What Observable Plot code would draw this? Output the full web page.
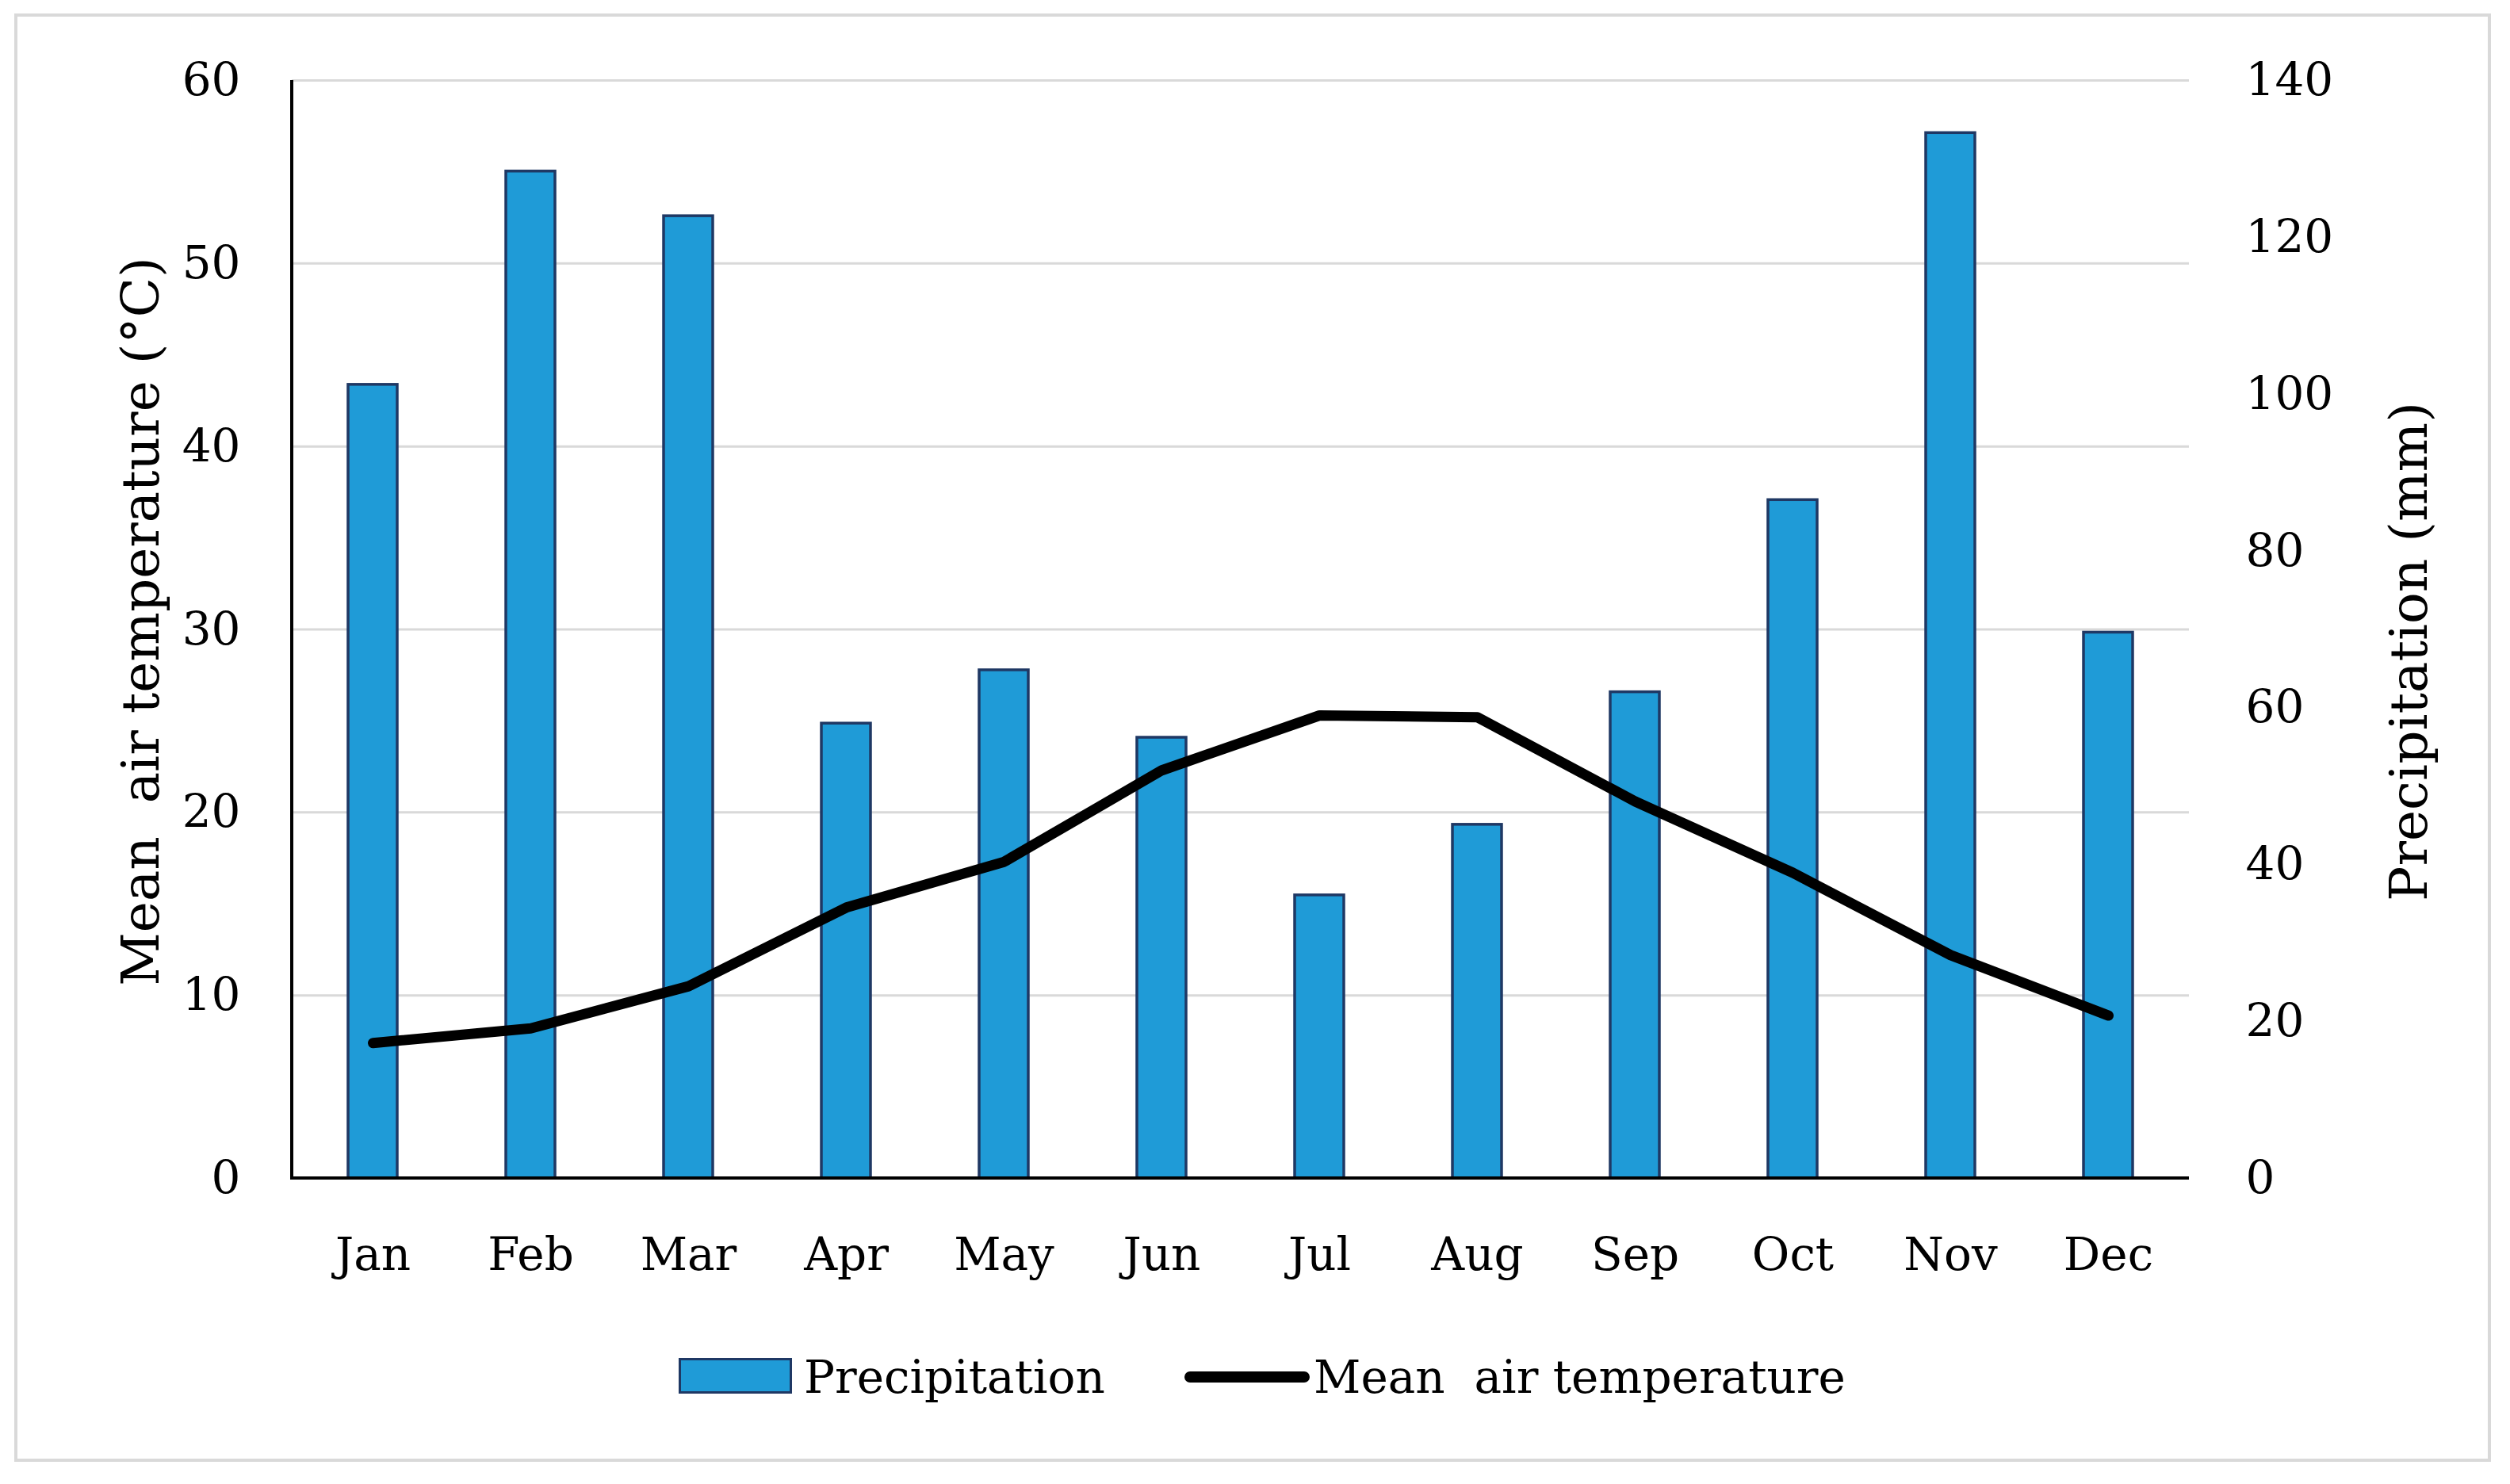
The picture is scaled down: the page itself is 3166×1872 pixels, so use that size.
<!DOCTYPE html>
<html>
<head>
<meta charset="utf-8">
<script src="https://cdn.jsdelivr.net/npm/d3@7"></script>
<script src="https://cdn.jsdelivr.net/npm/@observablehq/plot@0.6"></script>
<style>
  html, body { margin: 0; padding: 0; background: #ffffff; }
  body { width: 3166px; height: 1872px; position: relative; overflow: hidden; font-family: "DejaVu Serif", serif; }
  #frame { position: absolute; left: 18px; top: 17px; width: 3124px; height: 1827px; border: 4px solid #d9d9d9; box-sizing: border-box; }
  #chart { position: absolute; left: 0; top: 0; }
  #chart svg text { white-space: pre; }
  .leg { position: absolute; font-size: 58px; line-height: 58px; color: #000; white-space: pre; }
  .swatch { position: absolute; box-sizing: border-box; }
</style>
</head>
<body>
<div id="frame"></div>
<div id="chart"></div>
<div id="legend"></div>
<script>
// ---- data ----
const months = ["Jan", "Feb", "Mar", "Apr", "May", "Jun", "Jul", "Aug", "Sep", "Oct", "Nov", "Dec"];
const precipitation = [101.2, 128.4, 122.7, 58.0, 64.8, 56.2, 36.1, 45.1, 62.0, 86.5, 133.3, 69.6];
const temperature = [7.4, 8.2, 10.5, 14.8, 17.3, 22.3, 25.3, 25.2, 20.6, 16.7, 12.2, 8.9];
const tempTicks = [0, 10, 20, 30, 40, 50, 60];
const precipTicks = [0, 20, 40, 60, 80, 100, 120, 140];
const tempMax = 60;
const precipMax = 140;
const leftTitle = "Mean  air temperature (°C)";
const rightTitle = "Precipitation (mm)";
const legendLabels = ["Precipitation", "Mean  air temperature"];

const barFill = "#1f9bd7";
const barStroke = "#1f3864";
const toTemp = v => v * tempMax / precipMax;

const data = months.map((m, i) => ({month: m, precip: precipitation[i], temp: temperature[i]}));

const W = 3166, H = 1660;
const font = "DejaVu Serif";

const axisLines = (index, scales, values, dims) => {
  const g = d3.create("svg:g");
  const x0 = dims.marginLeft, x1 = dims.width - dims.marginRight;
  const y0 = dims.marginTop, y1 = dims.height - dims.marginBottom;
  g.append("line").attr("x1", x0).attr("x2", x0).attr("y1", y0).attr("y2", y1 + 2)
    .attr("stroke", "#000").attr("stroke-width", 4);
  g.append("line").attr("x1", x0 - 2).attr("x2", x1).attr("y1", y1).attr("y2", y1)
    .attr("stroke", "#000").attr("stroke-width", 4);
  return g.node();
};

const chart = Plot.plot({
  width: W,
  height: H,
  marginLeft: 368,
  marginRight: W - 2761,
  marginTop: 101,
  marginBottom: H - 1486,
  style: {fontFamily: font, fontSize: "58px", color: "#000", background: "transparent", maxWidth: "none"},
  x: {type: "band", domain: months, paddingInner: 0.69, paddingOuter: 0.345, label: null},
  y: {domain: [0, tempMax], label: null},
  marks: [
    Plot.gridY(tempTicks.filter(t => t > 0), {stroke: "#d9d9d9", strokeOpacity: 1, strokeWidth: 3}),
    Plot.barY(data, {x: "month", y: d => toTemp(d.precip), fill: barFill, stroke: barStroke, strokeWidth: 3.5}),
    Plot.lineY(data, {x: "month", y: "temp", stroke: "#000", strokeWidth: 13, strokeLinejoin: "round", strokeLinecap: "round"}),
    axisLines,
    Plot.axisX({tickSize: 0, tickPadding: 74, fontSize: 58, fontFamily: font, label: null}),
    Plot.axisY({anchor: "left", ticks: tempTicks, tickSize: 0, tickPadding: 65, fontSize: 58, fontFamily: font, label: null}),
    Plot.axisY({anchor: "right", ticks: precipTicks.map(toTemp), tickFormat: d => String(Math.round(d * precipMax / tempMax)),
      tickSize: 0, tickPadding: 71, fontSize: 58, fontFamily: font, label: null}),
    Plot.text([leftTitle], {text: d => d, frameAnchor: "left", dx: -190, dy: -10, rotate: -90, textAnchor: "middle",
      fontSize: 66, fontFamily: font, fill: "#000"}),
    Plot.text([rightTitle], {text: d => d, frameAnchor: "right", dx: 278, dy: 28, rotate: -90, textAnchor: "middle",
      fontSize: 66, fontFamily: font, fill: "#000"})
  ]
});
document.getElementById("chart").appendChild(chart);

// ---- legend (below the SVG plot area) ----
const legend = document.getElementById("legend");
const sw1 = document.createElement("div");
sw1.className = "swatch";
Object.assign(sw1.style, {left: "856px", top: "1713px", width: "143px", height: "45px", background: barFill, border: "3px solid " + barStroke});
legend.appendChild(sw1);
const t1 = document.createElement("div");
t1.className = "leg";
t1.textContent = legendLabels[0];
Object.assign(t1.style, {left: "1014px", top: "1708px"});
legend.appendChild(t1);
const sw2 = document.createElement("div");
sw2.className = "swatch";
Object.assign(sw2.style, {left: "1494px", top: "1730px", width: "158px", height: "14px", background: "#000", borderRadius: "7px"});
legend.appendChild(sw2);
const t2 = document.createElement("div");
t2.className = "leg";
t2.textContent = legendLabels[1];
Object.assign(t2.style, {left: "1657px", top: "1708px"});
legend.appendChild(t2);
</script>
</body>
</html>
